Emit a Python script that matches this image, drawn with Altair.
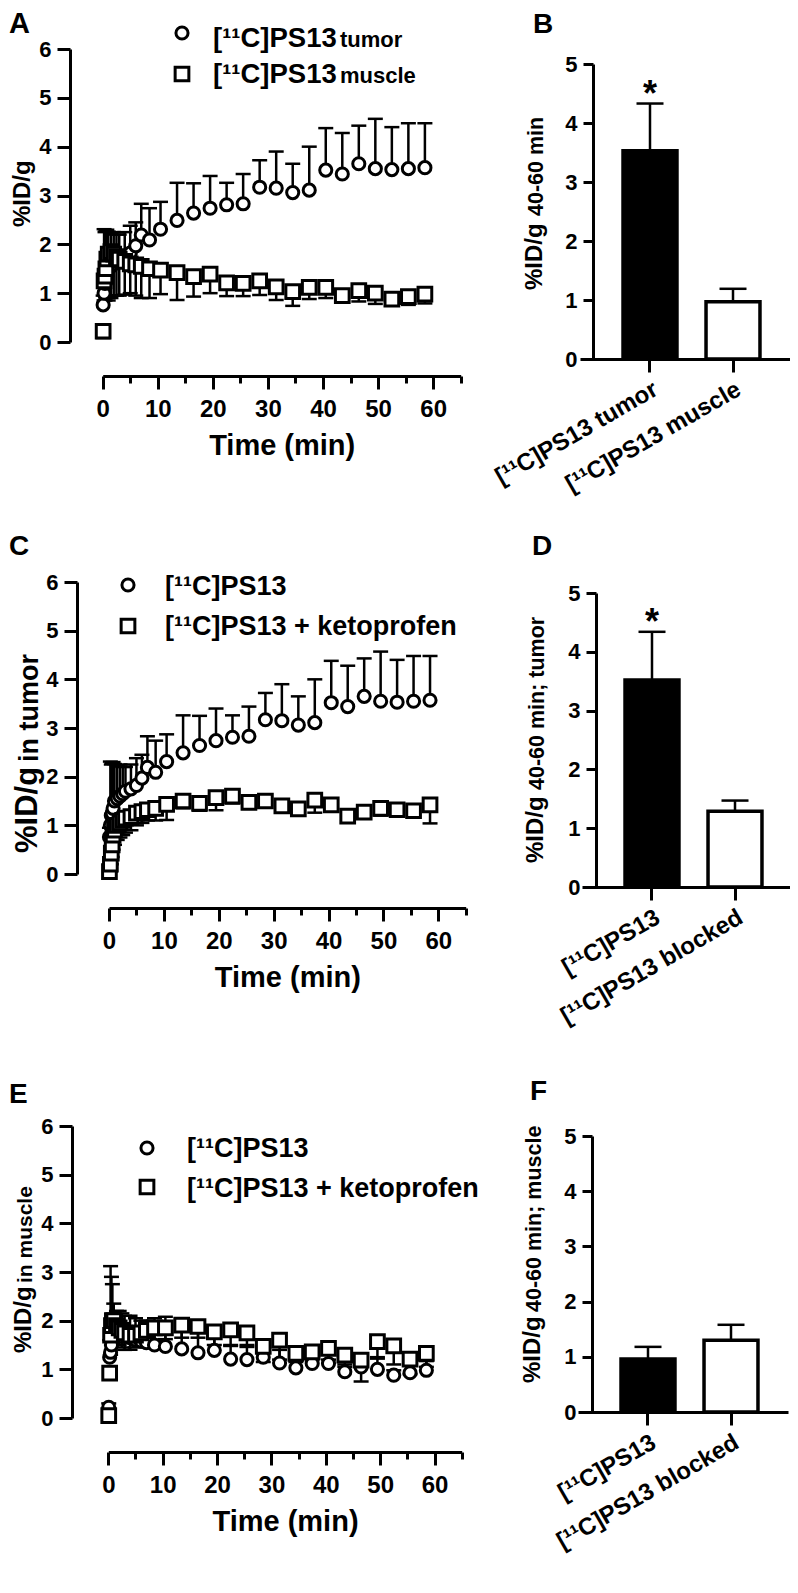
import altair as alt
import pandas as pd

FONT = "Liberation Sans"
W, H = 782, 1575
OFF = 8  # page margin


def px(v):
    return v - OFF


def py(v):
    return v - OFF


# ---------------- data ----------------
time_min = [0.08, 0.25, 0.42, 0.58, 0.75, 1.0, 1.5, 2.0, 2.5, 3.0, 4.0, 5.0, 6.0, 7.0, 8.5, 10.5,
            13.5, 16.5, 19.5, 22.5, 25.5, 28.5, 31.5, 34.5, 37.5, 40.5, 43.5, 46.5, 49.5, 52.5, 55.5, 58.5]

# [11C]PS13 in tumor (mean, mean+SD)
tumor_mean = [0.76, 1.00, 1.20, 1.25, 1.35, 1.50, 1.55, 1.60, 1.65, 1.70, 1.75, 1.82, 1.97, 2.19, 2.09, 2.31,
              2.49, 2.64, 2.74, 2.81, 2.83, 3.17, 3.15, 3.06, 3.11, 3.52, 3.44, 3.65, 3.55, 3.53, 3.55, 3.57]
tumor_upper = [0.95, 2.31, 2.25, 2.28, 2.30, 2.26, 2.22, 2.25, 2.20, 2.20, 2.25, 2.38, 2.45, 2.83, 2.74, 2.87,
               3.26, 3.25, 3.40, 3.26, 3.44, 3.72, 3.90, 3.65, 4.00, 4.38, 4.28, 4.43, 4.57, 4.40, 4.48, 4.48]

# [11C]PS13 in muscle (mean, mean-SD)
muscle_mean = [0.22, 1.25, 1.35, 1.50, 1.70, 1.80, 1.85, 1.80, 1.75, 1.70, 1.65, 1.60, 1.58, 1.55, 1.50, 1.47,
               1.42, 1.34, 1.39, 1.21, 1.20, 1.25, 1.13, 1.03, 1.12, 1.12, 0.95, 1.05, 1.00, 0.88, 0.93, 0.98]
muscle_lower = [0.08, 0.85, 0.85, 0.90, 0.95, 0.85, 0.90, 0.95, 0.95, 0.95, 0.97, 1.00, 0.95, 0.90, 0.90, 0.98,
                0.86, 0.93, 1.00, 0.94, 0.94, 0.96, 0.86, 0.74, 0.88, 0.90, 0.85, 0.83, 0.78, 0.78, 0.76, 0.79]
# panel E: upper whiskers of [11C]PS13 in muscle
muscle_upper_e = [0.30, 1.60, 3.12, 2.90, 2.75, 2.35, 2.20, 2.20, 2.15, 2.10, 2.10, 2.05, 2.00, 2.00, 2.05, 2.08,
                  1.98, 1.77, 1.78, 1.48, 1.46, 1.54, 1.40, 1.32, 1.36, 1.34, 1.05, 1.27, 1.22, 0.98, 1.10, 1.17]

# [11C]PS13 + ketoprofen in tumor (mean, mean-SD)
keto_tumor_mean = [0.05, 0.20, 0.43, 0.60, 0.80, 0.90, 1.00, 1.05, 1.10, 1.15, 1.18, 1.25, 1.28, 1.32, 1.35, 1.43,
                   1.50, 1.45, 1.57, 1.60, 1.47, 1.50, 1.40, 1.34, 1.52, 1.42, 1.19, 1.27, 1.35, 1.32, 1.30, 1.42]
keto_tumor_lower = [0.00, 0.05, 0.20, 0.35, 0.50, 0.60, 0.70, 0.75, 0.80, 0.85, 0.90, 1.00, 1.05, 1.10, 1.10, 1.11,
                    1.35, 1.30, 1.31, 1.45, 1.35, 1.38, 1.28, 1.22, 1.26, 1.30, 1.10, 1.15, 1.20, 1.20, 1.18, 1.04]

# [11C]PS13 + ketoprofen in muscle (mean, mean-SD)
keto_muscle_mean = [0.05, 0.92, 1.70, 1.90, 2.00, 2.00, 1.90, 1.85, 1.80, 1.75, 1.70, 1.70, 1.75, 1.80, 1.85, 1.85,
                    1.91, 1.88, 1.77, 1.81, 1.75, 1.47, 1.60, 1.33, 1.36, 1.43, 1.29, 1.19, 1.57, 1.48, 1.21, 1.33]
keto_muscle_lower = [0.00, 0.80, 1.30, 1.50, 1.60, 1.60, 1.55, 1.50, 1.45, 1.40, 1.40, 1.45, 1.50, 1.55, 1.60, 1.62,
                     1.65, 1.65, 1.50, 1.50, 1.50, 1.15, 1.20, 1.15, 1.20, 1.20, 1.10, 0.75, 1.25, 1.10, 0.90, 1.05]

# bar panels (%ID/g 40-60 min)
b_groups = ["[¹¹C]PS13 tumor", "[¹¹C]PS13 muscle"]
b_mean = [3.53, 0.97]
b_upper = [4.33, 1.19]
d_groups = ["[¹¹C]PS13", "[¹¹C]PS13 blocked"]
d_mean = [3.52, 1.29]
d_upper = [4.34, 1.47]
f_groups = ["[¹¹C]PS13", "[¹¹C]PS13 blocked"]
f_mean = [0.96, 1.30]
f_upper = [1.18, 1.58]
bar_fill = ["black", "white"]
b_star = ["*", ""]
d_star = ["*", ""]
f_star = ["", ""]

# ---------------- helpers ----------------
AX = dict(domainColor="black", domainWidth=3, tickColor="black", tickWidth=3,
          labelColor="black", labelFont=FONT, labelFontWeight="bold",
          grid=False, labelOverlap=False, labelFlush=False,
          titleFont=FONT, titleFontWeight="bold", titleColor="black")

CIRCLE = 147
SQUARE = 188


def txt(s, x, y, size, align="left", angle=0):
    return alt.Chart(alt.Data(values=[{"t": s}])).mark_text(
        align=align, baseline="alphabetic", angle=angle, fontSize=size,
        fontWeight="bold", font=FONT, color="black"
    ).encode(x=alt.value(px(x)), y=alt.value(py(y)), text="t:N")


def sym(x, y, shape, size):
    return alt.Chart(alt.Data(values=[{"a": 1}])).mark_point(
        shape=shape, size=size, filled=True, fill="white", stroke="black",
        strokeWidth=3, opacity=1
    ).encode(x=alt.value(px(x)), y=alt.value(py(y)))


def ts_panel(series, xr, yr, y_axis_x, x_axis_y):
    """series: list of (mean list, whisker-end list, shape, size)."""
    cols = {"t": time_min}
    for i, (m, e, _, _) in enumerate(series):
        cols[f"m{i}"] = m
        cols[f"e{i}"] = e
    df = pd.DataFrame(cols)
    xsc = alt.Scale(domain=[0, 65], range=[px(xr[0]), px(xr[1])], nice=False, zero=False)
    ysc = alt.Scale(domain=[0, 6], range=[py(yr[0]), py(yr[1])], nice=False, zero=False)
    xax = alt.Axis(orient="bottom", offset=py(x_axis_y) - H, values=list(range(0, 70, 5)),
                   labelExpr="datum.value % 10 === 0 ? datum.label : ''",
                   tickSize={"condition": {"test": "datum.value % 10 === 0", "value": 13}, "value": 7},
                   labelPadding=8, labelFontSize=24, title="Time (min)", titleFontSize=29,
                   titlePadding=10, **AX)
    yax = alt.Axis(orient="left", offset=-px(y_axis_x), values=list(range(0, 7)),
                   tickSize=13, labelPadding=6, labelFontSize=22, title=None, **AX)
    X = alt.X("t:Q", scale=xsc, axis=xax)
    layers = []
    for i in range(len(series)):
        layers.append(alt.Chart(df).mark_rule(strokeWidth=2.5, color="black").encode(
            x=X, y=alt.Y(f"m{i}:Q", scale=ysc, axis=yax), y2=f"e{i}:Q"))
        layers.append(alt.Chart(df).mark_tick(orient="horizontal", size=15, thickness=2.5,
                                              color="black", opacity=1).encode(
            x=X, y=alt.Y(f"e{i}:Q", scale=ysc, axis=yax)))
    for i, (_, _, shape, size) in enumerate(series):
        layers.append(alt.Chart(df).mark_point(shape=shape, size=size, filled=True, fill="white",
                                               stroke="black", strokeWidth=3, opacity=1).encode(
            x=X, y=alt.Y(f"m{i}:Q", scale=ysc, axis=yax)))
    return alt.layer(*layers)


def bar_panel(groups, means, uppers, stars, xr, yr, y_axis_x, x_axis_y):
    df = pd.DataFrame({"g": groups, "m": means, "u": uppers, "f": bar_fill, "s": stars})
    xsc = alt.Scale(domain=groups, range=[px(xr[0]), px(xr[1])],
                    paddingInner=0.35, paddingOuter=0.44, align=0.589)
    ysc = alt.Scale(domain=[0, 5], range=[py(yr[0]), py(yr[1])], nice=False, zero=True)
    xax = alt.Axis(orient="bottom", offset=py(x_axis_y) - H, tickSize=13, labelAngle=330,
                   labelAlign="right", labelBaseline="top", labelPadding=5, labelFontSize=24,
                   labelLimit=400, title=None, **AX)
    yax = alt.Axis(orient="left", offset=-px(y_axis_x), values=list(range(0, 6)),
                   tickSize=10, labelPadding=6, labelFontSize=22, title=None, **AX)
    X = alt.X("g:N", scale=xsc, axis=xax, sort=groups)
    Y = alt.Y("m:Q", scale=ysc, axis=yax)
    bars = alt.Chart(df).mark_bar(stroke="black", strokeWidth=3.5).encode(
        x=X, y=Y, fill=alt.Fill("f:N", scale=None))
    stem = alt.Chart(df).mark_rule(strokeWidth=2.5, color="black").encode(x=X, y=Y, y2="u:Q")
    cap = alt.Chart(df).mark_tick(orient="horizontal", size=27, thickness=2.5,
                                  color="black", opacity=1).encode(
        x=X, y=alt.Y("u:Q", scale=ysc, axis=yax))
    star = alt.Chart(df).mark_text(fontSize=36, fontWeight="bold", font=FONT, color="black",
                                   baseline="alphabetic", dy=2).encode(
        x=X, y=alt.Y("u:Q", scale=ysc, axis=yax), text="s:N")
    return alt.layer(stem, cap, bars, star)


# ---------------- panels ----------------
panel_a = ts_panel([(tumor_mean, tumor_upper, "circle", CIRCLE),
                    (muscle_mean, muscle_lower, "square", SQUARE)],
                   xr=(102.7, 460.7), yr=(342, 49), y_axis_x=70, x_axis_y=376)
panel_c = ts_panel([(tumor_mean, tumor_upper, "circle", CIRCLE),
                    (keto_tumor_mean, keto_tumor_lower, "square", SQUARE)],
                   xr=(109, 465.7), yr=(874, 582), y_axis_x=77, x_axis_y=908)
panel_e = ts_panel([(muscle_mean, muscle_upper_e, "circle", CIRCLE),
                    (keto_muscle_mean, keto_muscle_lower, "square", SQUARE)],
                   xr=(108.3, 461.7), yr=(1418, 1126), y_axis_x=72, x_axis_y=1452)

panel_b = bar_panel(b_groups, b_mean, b_upper, b_star, xr=(580, 790), yr=(359, 64),
                    y_axis_x=593, x_axis_y=359)
panel_d = bar_panel(d_groups, d_mean, d_upper, d_star, xr=(582, 792), yr=(887, 593),
                    y_axis_x=596, x_axis_y=887)
panel_f = bar_panel(f_groups, f_mean, f_upper, f_star, xr=(578, 788), yr=(1412, 1136),
                    y_axis_x=592, x_axis_y=1412)

texts = [
    # panel letters
    txt("A", 9, 33, 29), txt("B", 533, 33, 28), txt("C", 9, 555, 28),
    txt("D", 532, 555, 28), txt("E", 9, 1103, 28), txt("F", 530, 1100, 28),
    # legends
    sym(182, 33, "circle", CIRCLE), sym(182, 74, "square", SQUARE),
    txt("[¹¹C]PS13", 213, 47, 27.5), txt("tumor", 340, 47, 22),
    txt("[¹¹C]PS13", 213, 83, 27.5), txt("muscle", 340, 83, 22),
    sym(128, 585, "circle", CIRCLE), sym(128, 626, "square", SQUARE),
    txt("[¹¹C]PS13", 165, 595, 27), txt("[¹¹C]PS13 + ketoprofen", 165, 635, 27),
    sym(147, 1148, "circle", CIRCLE), sym(147, 1187, "square", SQUARE),
    txt("[¹¹C]PS13", 187, 1157, 27), txt("[¹¹C]PS13 + ketoprofen", 187, 1197, 27),
    # y-axis titles (rotated, with subscripts)
    txt("%ID/g", 30, 227, 24, angle=270),
    txt("%ID/g", 542, 290, 24, angle=270), txt("40-60 min", 543, 216, 21.5, angle=270),
    txt("%ID/g", 37, 853, 31, angle=270), txt("in tumor", 38, 762, 27, angle=270),
    txt("%ID/g", 543, 863, 24, angle=270), txt("40-60 min; tumor", 544, 790, 21.5, angle=270),
    txt("%ID/g", 31, 1353, 24, angle=270), txt("in muscle", 32, 1283, 21, angle=270),
    txt("%ID/g", 540, 1383, 24, angle=270), txt("40-60 min; muscle", 541, 1312, 21.5, angle=270),
]

chart = alt.layer(panel_a, panel_b, panel_c, panel_d, panel_e, panel_f, *texts).resolve_scale(
    x="independent", y="independent"
).resolve_axis(
    x="independent", y="independent"
).properties(
    width=W, height=H, padding=0, autosize=alt.AutoSizeParams(type="none")
).configure_view(stroke=None)

chart.save("out.html", embed_options={"renderer": "svg", "actions": False})
